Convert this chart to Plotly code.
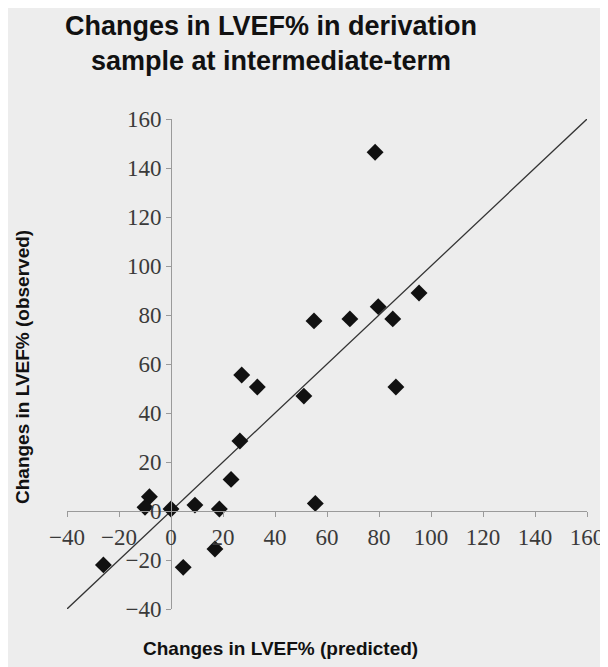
import plotly.graph_objects as go

predicted = [27.2, 33.2, 55.0, 51.1, 78.5, 95.4, 79.7, 68.8, 85.3, 86.5,
             26.5, 23.1, -8.3, -10.0, 0.0, 9.2, 18.6, 55.5, 16.9, 4.7, -26.0]
observed = [55.5, 50.6, 77.6, 46.9, 146.4, 89.0, 83.4, 78.4, 78.4, 50.6,
            28.6, 12.9, 5.8, 1.5, 0.8, 2.4, 0.8, 3.1, -15.5, -23.0, -22.0]
line_x = [-40, 160]
line_y = [-40, 160]
tick_vals = [-40, -20, 0, 20, 40, 60, 80, 100, 120, 140, 160]

bg = "#ededed"
tick_font = dict(family="Liberation Serif, Times New Roman, serif", size=23, color="#3a3a3a")
OFF = 8  # page body margin
W, H = 608 - OFF, 667 - OFF
L, R, T, B = 67 - OFF, 21, 119 - OFF, 58

fig = go.Figure()
fig.add_trace(go.Scatter(x=line_x, y=line_y, mode="lines",
                         line=dict(color="#333333", width=1.3), hoverinfo="skip"))
fig.add_trace(go.Scatter(x=predicted, y=observed, mode="markers",
                         marker=dict(symbol="diamond", size=13, color="#111111")))

axis_common = dict(range=[-40, 160], tickvals=tick_vals, showgrid=False, zeroline=False,
                   showline=True, linecolor="#9a9a9a", linewidth=1,
                   ticks="outside", ticklen=5, tickcolor="#9a9a9a",
                   anchor="free", position=0.2, tickfont=tick_font, domain=[0, 1],
                   automargin=False)


def pos(px, py):
    # page pixel -> plot-area paper coords
    fx = px - OFF
    fy = py - OFF
    return (fx - L) / (W - L - R), 1 - (fy - T) / (H - T - B)


tx, ty = pos(271, 44)
xx, xy = pos(280, 648)
yx, yy = pos(22, 367)

fig.update_layout(
    width=W, height=H,
    paper_bgcolor=bg, plot_bgcolor=bg,
    showlegend=False,
    margin=dict(l=L, r=R, t=T, b=B, autoexpand=False),
    xaxis=axis_common,
    yaxis=axis_common,
    annotations=[
        dict(text="<b>Changes in LVEF% in derivation<br>sample at intermediate-term</b>",
             x=tx, y=ty, xref="paper", yref="paper",
             xanchor="center", yanchor="middle", showarrow=False,
             font=dict(family="Liberation Sans, Arial, sans-serif", size=27, color="#111111")),
        dict(text="<b>Changes in LVEF% (predicted)</b>",
             x=xx, y=xy, xref="paper", yref="paper",
             xanchor="center", yanchor="middle", showarrow=False,
             font=dict(family="Liberation Sans, Arial, sans-serif", size=19, color="#111111")),
        dict(text="<b>Changes in LVEF% (observed)</b>",
             x=yx, y=yy, xref="paper", yref="paper", textangle=-90,
             xanchor="center", yanchor="middle", showarrow=False,
             font=dict(family="Liberation Sans, Arial, sans-serif", size=19, color="#111111")),
    ],
)

fig.write_html("out.html")
